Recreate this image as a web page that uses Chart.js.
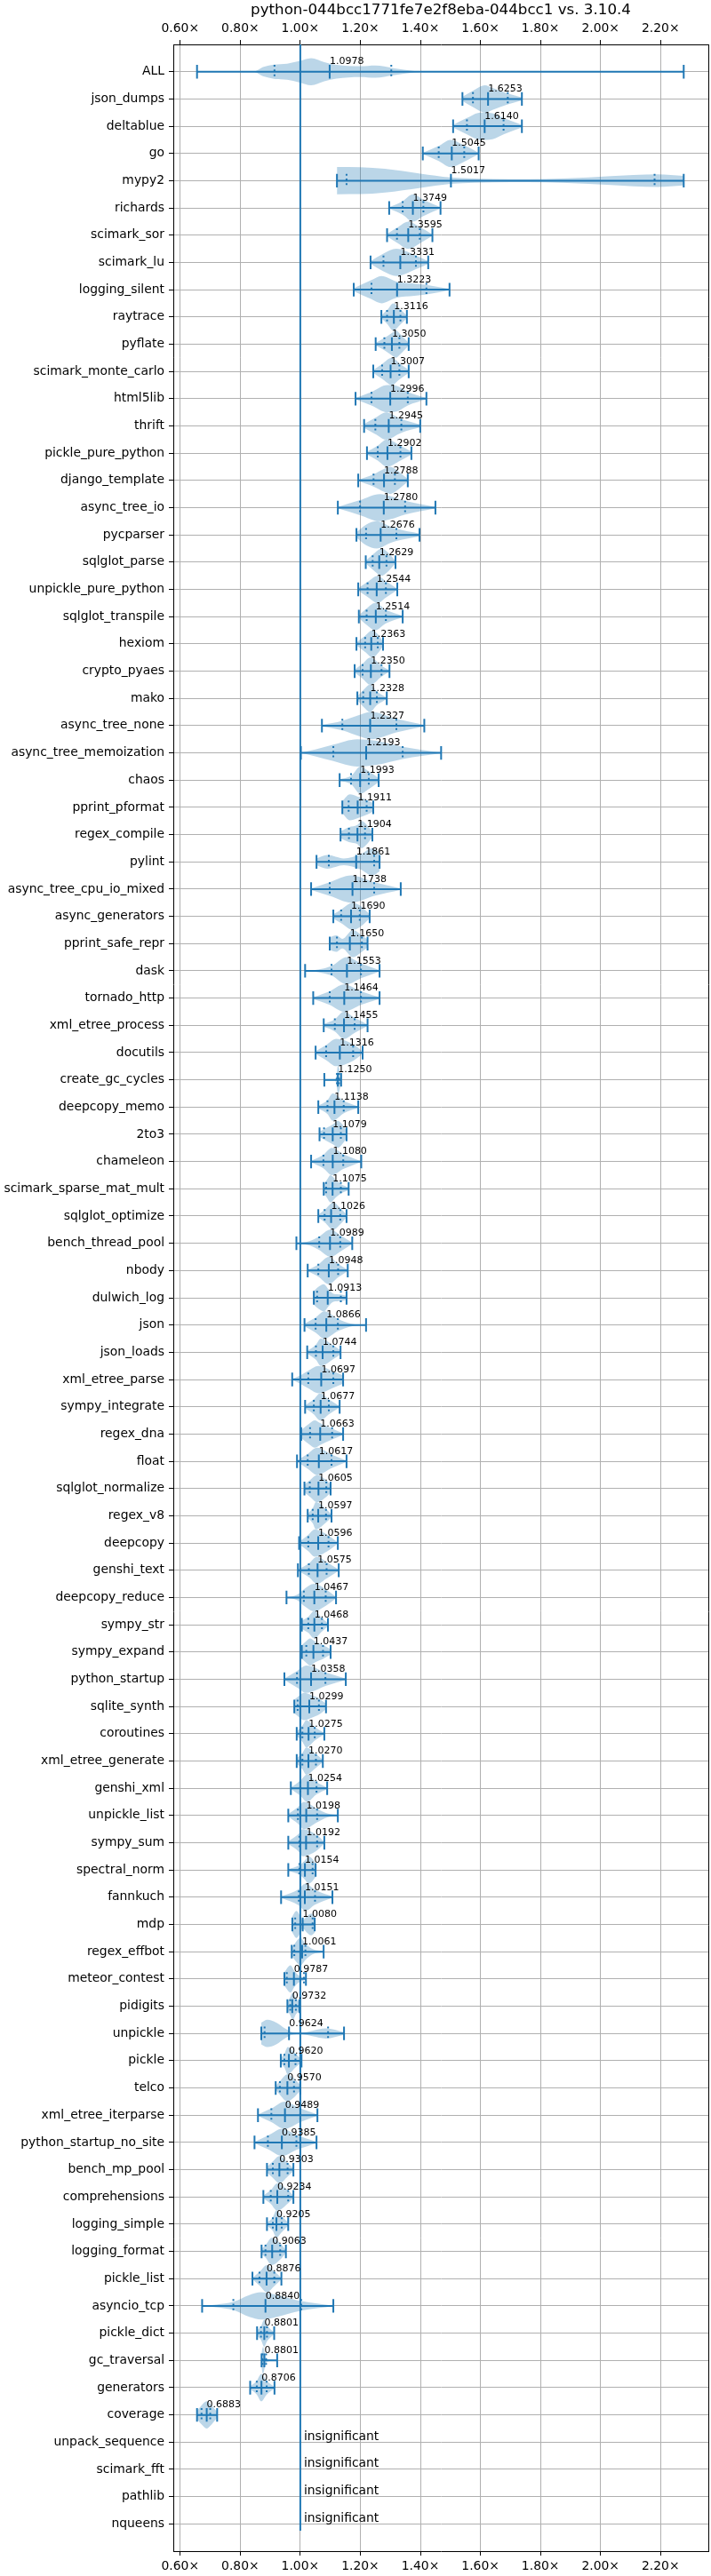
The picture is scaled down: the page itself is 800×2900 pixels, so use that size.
<!DOCTYPE html>
<html>
<head>
<meta charset="utf-8">
<title>python-044bcc1771fe7e2f8eba-044bcc1 vs. 3.10.4</title>
<script src="https://cdn.jsdelivr.net/npm/chart.js@4.4.0/dist/chart.umd.min.js"></script>
<style>
  html, body { margin: 0; padding: 0; background: #fff; }
  #wrap { width: 800px; height: 2900px; }
</style>
</head>
<body>
<div id="wrap"><canvas id="grafico" width="800" height="2900"></canvas></div>
<script>
const titulo = 'python-044bcc1771fe7e2f8eba-044bcc1 vs. 3.10.4';

const xTicks = [0.6, 0.8, 1.0, 1.2, 1.4, 1.6, 1.8, 2.0, 2.2];

const benchmarks = [
  'ALL', 'json_dumps', 'deltablue', 'go', 'mypy2', 'richards', 'scimark_sor', 'scimark_lu',
  'logging_silent', 'raytrace', 'pyflate', 'scimark_monte_carlo', 'html5lib', 'thrift',
  'pickle_pure_python', 'django_template', 'async_tree_io', 'pycparser', 'sqlglot_parse',
  'unpickle_pure_python', 'sqlglot_transpile', 'hexiom', 'crypto_pyaes', 'mako',
  'async_tree_none', 'async_tree_memoization', 'chaos', 'pprint_pformat', 'regex_compile',
  'pylint', 'async_tree_cpu_io_mixed', 'async_generators', 'pprint_safe_repr', 'dask',
  'tornado_http', 'xml_etree_process', 'docutils', 'create_gc_cycles', 'deepcopy_memo', '2to3',
  'chameleon', 'scimark_sparse_mat_mult', 'sqlglot_optimize', 'bench_thread_pool', 'nbody',
  'dulwich_log', 'json', 'json_loads', 'xml_etree_parse', 'sympy_integrate', 'regex_dna',
  'float', 'sqlglot_normalize', 'regex_v8', 'deepcopy', 'genshi_text', 'deepcopy_reduce',
  'sympy_str', 'sympy_expand', 'python_startup', 'sqlite_synth', 'coroutines',
  'xml_etree_generate', 'genshi_xml', 'unpickle_list', 'sympy_sum', 'spectral_norm',
  'fannkuch', 'mdp', 'regex_effbot', 'meteor_contest', 'pidigits', 'unpickle', 'pickle',
  'telco', 'xml_etree_iterparse', 'python_startup_no_site', 'bench_mp_pool', 'comprehensions',
  'logging_simple', 'logging_format', 'pickle_list', 'asyncio_tcp', 'pickle_dict',
  'gc_traversal', 'generators', 'coverage', 'unpack_sequence', 'scimark_fft', 'pathlib', 'nqueens'
];

// valor central (null = insignificant)
const medians = [
  1.0978, 1.6253, 1.6140, 1.5045, 1.5017, 1.3749, 1.3595, 1.3331, 1.3223, 1.3116, 1.3050,
  1.3007, 1.2996, 1.2945, 1.2902, 1.2788, 1.2780, 1.2676, 1.2629, 1.2544, 1.2514, 1.2363,
  1.2350, 1.2328, 1.2327, 1.2193, 1.1993, 1.1911, 1.1904, 1.1861, 1.1738, 1.1690, 1.1650,
  1.1553, 1.1464, 1.1455, 1.1316, 1.1250, 1.1138, 1.1079, 1.1080, 1.1075, 1.1026, 1.0989,
  1.0948, 1.0913, 1.0866, 1.0744, 1.0697, 1.0677, 1.0663, 1.0617, 1.0605, 1.0597, 1.0596,
  1.0575, 1.0467, 1.0468, 1.0437, 1.0358, 1.0299, 1.0275, 1.0270, 1.0254, 1.0198, 1.0192,
  1.0154, 1.0151, 1.0080, 1.0061, 0.9787, 0.9732, 0.9624, 0.9620, 0.9570, 0.9489, 0.9385,
  0.9303, 0.9234, 0.9205, 0.9063, 0.8876, 0.8840, 0.8801, 0.8801, 0.8706, 0.6883,
  null, null, null, null
];

const mins = [
  0.656, 1.540, 1.509, 1.408, 1.122, 1.296, 1.289, 1.234, 1.178, 1.270, 1.251, 1.243, 1.184,
  1.2125, 1.222, 1.193, 1.125, 1.187, 1.218, 1.193, 1.195, 1.187, 1.181, 1.190, 1.072, 1.002,
  1.131, 1.140, 1.134, 1.054, 1.036, 1.110, 1.098, 1.016, 1.043, 1.078, 1.051, 1.080, 1.060,
  1.064, 1.036, 1.078, 1.060, 0.987, 1.0246, 1.045, 1.014, 1.023, 0.973, 1.016, 1.003, 0.989,
  1.0138, 1.0246, 0.996, 0.992, 0.954, 1.005, 1.005, 0.947, 0.980, 0.988, 0.988, 0.9685, 0.960,
  0.960, 0.960, 0.936, 0.9734, 0.9715, 0.947, 0.957, 0.870, 0.935, 0.918, 0.859, 0.8475, 0.889,
  0.877, 0.889, 0.871, 0.8406, 0.673, 0.856, 0.871, 0.833, 0.656,
  null, null, null, null
];

const maxs = [
  2.277, 1.738, 1.738, 1.594, 2.277, 1.467, 1.440, 1.426, 1.497, 1.355, 1.361, 1.361, 1.420,
  1.3994, 1.370, 1.358, 1.450, 1.397, 1.317, 1.323, 1.341, 1.2755, 1.297, 1.288, 1.413, 1.469,
  1.261, 1.243, 1.240, 1.264, 1.3345, 1.231, 1.224, 1.264, 1.264, 1.224, 1.2075, 1.136, 1.193,
  1.154, 1.203, 1.161, 1.154, 1.173, 1.158, 1.154, 1.219, 1.134, 1.1426, 1.131, 1.1426, 1.154,
  1.101, 1.104, 1.125, 1.128, 1.119, 1.092, 1.101, 1.1515, 1.0856, 1.080, 1.075, 1.0895, 1.125,
  1.080, 1.051, 1.107, 1.048, 1.0777, 1.0187, 0.997, 1.1456, 1.004, 1.000, 1.057, 1.054, 0.977,
  0.977, 0.9597, 0.952, 0.937, 1.110, 0.913, 0.923, 0.914, 0.723,
  null, null, null, null
];

const lowQ = [
  0.914, 1.575, 1.555, 1.461, 1.154, 1.341, 1.322, 1.277, 1.237, 1.289, 1.280, 1.2725, 1.237,
  1.250, 1.258, 1.244, 1.199, 1.219, 1.241, 1.224, 1.221, 1.216, 1.2075, 1.2095, 1.140, 1.110,
  1.169, 1.161, 1.162, 1.095, 1.098, 1.136, 1.122, 1.104, 1.098, 1.115, 1.086, 1.122, 1.0905,
  1.079, 1.077, 1.086, 1.081, 1.063, 1.060, 1.056, 1.051, 1.052, 1.0266, 1.045, 1.0325, 1.0246,
  1.0315, 1.0413, 1.0266, 1.0285, 1.0118, 1.0266, 1.020, 0.989, 0.991, 1.007, 1.007, 1.000,
  0.992, 0.997, 0.997, 0.995, 0.983, 0.980, 0.955, 0.9665, 0.881, 0.947, 0.932, 0.9036, 0.892,
  0.9085, 0.9016, 0.9085, 0.884, 0.864, 0.777, 0.869, 0.874, 0.855, 0.671,
  null, null, null, null
];

const highQ = [
  1.303, 1.691, 1.677, 1.546, 2.180, 1.410, 1.398, 1.385, 1.420, 1.3335, 1.330, 1.330, 1.358,
  1.3365, 1.3335, 1.315, 1.349, 1.320, 1.287, 1.285, 1.285, 1.258, 1.2705, 1.255, 1.320, 1.341,
  1.228, 1.221, 1.2155, 1.246, 1.246, 1.198, 1.205, 1.202, 1.202, 1.181, 1.176, 1.129, 1.1446,
  1.135, 1.143, 1.135, 1.133, 1.133, 1.126, 1.135, 1.125, 1.110, 1.110, 1.095, 1.106, 1.104,
  1.0866, 1.0856, 1.094, 1.0876, 1.0846, 1.072, 1.0757, 1.0836, 1.062, 1.048, 1.052, 1.054,
  1.056, 1.056, 1.041, 1.049, 1.041, 1.017, 1.012, 0.9852, 1.0925, 0.984, 0.979, 1.000, 0.987,
  0.9577, 0.9597, 0.938, 0.933, 0.9134, 1.003, 0.889, 0.886, 0.888, 0.700,
  null, null, null, null
];

// contorno de cada violin: [x, ancho relativo al maximo]
const violinShapes = [
  [[0.656,0],[0.843,0],[0.878,0.35],[0.912,0.52],[0.956,0.59],[0.996,0.78],[1.036,1.0],[1.08,0.7],[1.12,0.5],[1.16,0.42],[1.2,0.4],[1.25,0.45],[1.31,0.26],[1.38,0.05],[1.42,0],[2.277,0]],
  [[1.54,0.15],[1.575,0.6],[1.615,1.0],[1.64,0.8],[1.691,0.4],[1.738,0.1]],
  [[1.509,0.1],[1.555,0.6],[1.6,1.0],[1.64,0.95],[1.677,0.6],[1.738,0.1]],
  [[1.408,0.05],[1.461,0.55],[1.5,1.0],[1.546,0.6],[1.594,0.05]],
  [[1.122,1.0],[1.2,0.99],[1.282,0.87],[1.4,0.52],[1.5,0.24],[1.58,0.15],[1.7,0.1],[1.82,0.12],[1.96,0.24],[2.11,0.41],[2.19,0.46],[2.277,0.35]],
  [[1.296,0.05],[1.341,0.5],[1.375,1.0],[1.41,0.6],[1.467,0.05]],
  [[1.289,0.1],[1.322,0.55],[1.36,1.0],[1.398,0.6],[1.44,0.05]],
  [[1.234,0.1],[1.277,0.65],[1.32,1.0],[1.385,0.5],[1.426,0.1]],
  [[1.178,0.1],[1.237,0.7],[1.27,1.0],[1.32,0.6],[1.38,0.45],[1.42,0.35],[1.497,0.05]],
  [[1.27,0.1],[1.289,0.5],[1.31,1.0],[1.3335,0.55],[1.355,0.1]],
  [[1.251,0.1],[1.28,0.45],[1.31,0.9],[1.318,1.0],[1.33,0.8],[1.361,0.1]],
  [[1.243,0.1],[1.2725,0.55],[1.305,1.0],[1.33,0.6],[1.361,0.1]],
  [[1.184,0.05],[1.237,0.5],[1.29,1.0],[1.32,0.95],[1.358,0.5],[1.42,0.05]],
  [[1.2125,0.15],[1.25,0.6],[1.285,1.0],[1.3365,0.5],[1.3994,0.1]],
  [[1.222,0.1],[1.258,0.55],[1.288,1.0],[1.3335,0.55],[1.37,0.1]],
  [[1.193,0.05],[1.244,0.45],[1.28,0.85],[1.3,1.0],[1.315,0.85],[1.358,0.1]],
  [[1.125,0.05],[1.199,0.55],[1.265,1.0],[1.3,0.85],[1.349,0.5],[1.45,0.05]],
  [[1.187,0.2],[1.219,0.75],[1.255,1.0],[1.3,0.6],[1.32,0.45],[1.397,0.1]],
  [[1.218,0.1],[1.241,0.55],[1.272,1.0],[1.287,0.8],[1.317,0.1]],
  [[1.193,0.1],[1.224,0.55],[1.258,1.0],[1.285,0.6],[1.323,0.05]],
  [[1.195,0.1],[1.221,0.6],[1.25,1.0],[1.285,0.5],[1.341,0.05]],
  [[1.187,0.1],[1.216,0.6],[1.24,1.0],[1.258,0.7],[1.2755,0.15]],
  [[1.181,0.1],[1.2075,0.55],[1.233,1.0],[1.2705,0.4],[1.297,0.05]],
  [[1.19,0.15],[1.2095,0.6],[1.233,1.0],[1.255,0.5],[1.288,0.05]],
  [[1.072,0.05],[1.14,0.35],[1.2,0.8],[1.235,1.0],[1.32,0.5],[1.413,0.05]],
  [[1.002,0.02],[1.05,0.25],[1.11,0.6],[1.19,1.0],[1.25,0.9],[1.341,0.45],[1.469,0.03]],
  [[1.131,0.05],[1.169,0.3],[1.2,1.0],[1.228,0.65],[1.261,0.15]],
  [[1.14,0.45],[1.165,0.95],[1.19,0.8],[1.221,0.55],[1.243,0.3]],
  [[1.134,0.25],[1.162,0.55],[1.19,0.7],[1.205,1.0],[1.2155,0.85],[1.24,0.2]],
  [[1.054,0.25],[1.09,0.5],[1.145,0.25],[1.2,0.55],[1.24,1.0],[1.264,0.7]],
  [[1.036,0.05],[1.098,0.5],[1.17,1.0],[1.246,0.5],[1.3345,0.05]],
  [[1.11,0.15],[1.136,0.5],[1.175,1.0],[1.198,0.8],[1.231,0.15]],
  [[1.098,0.45],[1.12,0.6],[1.14,0.35],[1.175,1.0],[1.205,0.6],[1.224,0.3]],
  [[1.016,0.02],[1.06,0.1],[1.104,0.35],[1.155,1.0],[1.202,0.55],[1.264,0.05]],
  [[1.043,0.05],[1.098,0.5],[1.145,1.0],[1.202,0.5],[1.264,0.05]],
  [[1.078,0.1],[1.115,0.45],[1.145,1.0],[1.181,0.55],[1.224,0.05]],
  [[1.051,0.1],[1.086,0.55],[1.12,1.0],[1.176,0.6],[1.2075,0.1]],
  [[1.08,0],[1.115,0.03],[1.12,0.3],[1.125,1.0],[1.13,0.8],[1.136,0.2]],
  [[1.06,0.1],[1.09,0.5],[1.108,1.0],[1.145,0.45],[1.193,0.05]],
  [[1.064,0.2],[1.085,0.45],[1.11,0.75],[1.125,1.0],[1.135,0.85],[1.154,0.3]],
  [[1.036,0.05],[1.077,0.5],[1.105,1.0],[1.143,0.55],[1.203,0.02]],
  [[1.078,0.3],[1.09,0.7],[1.1,1.0],[1.12,0.6],[1.135,0.35],[1.161,0.1]],
  [[1.06,0.1],[1.081,0.45],[1.11,1.0],[1.133,0.6],[1.154,0.1]],
  [[0.987,0],[1.03,0.15],[1.063,0.5],[1.1,1.0],[1.133,0.6],[1.173,0.05]],
  [[1.0246,0.05],[1.06,0.45],[1.095,1.0],[1.126,0.5],[1.158,0.05]],
  [[1.045,0.5],[1.06,0.8],[1.078,1.0],[1.095,0.6],[1.11,0.3],[1.135,0.25],[1.154,0.15]],
  [[1.014,0.1],[1.051,0.55],[1.08,1.0],[1.125,0.45],[1.17,0.1],[1.219,0.02]],
  [[1.023,0.1],[1.052,0.55],[1.068,1.0],[1.11,0.5],[1.134,0.15]],
  [[0.973,0.05],[1.0,0.3],[1.027,0.65],[1.06,1.0],[1.11,0.6],[1.1426,0.3]],
  [[1.016,0.1],[1.045,0.55],[1.066,1.0],[1.095,0.55],[1.131,0.05]],
  [[1.003,0.3],[1.0325,0.8],[1.048,1.0],[1.066,0.8],[1.106,0.4],[1.1426,0.05]],
  [[0.989,0.05],[1.0246,0.55],[1.056,1.0],[1.104,0.5],[1.154,0.05]],
  [[1.0138,0.3],[1.0315,0.6],[1.056,1.0],[1.087,0.6],[1.101,0.3]],
  [[1.0246,0.15],[1.0413,0.55],[1.052,1.0],[1.0856,0.5],[1.104,0.1]],
  [[0.996,0.1],[1.0266,0.6],[1.048,1.0],[1.094,0.55],[1.125,0.05]],
  [[0.992,0.05],[1.0285,0.5],[1.056,1.0],[1.0876,0.6],[1.128,0.05]],
  [[0.954,0],[0.99,0.2],[1.012,0.6],[1.046,1.0],[1.085,0.6],[1.119,0.05]],
  [[1.005,0.3],[1.027,0.6],[1.046,1.0],[1.072,0.5],[1.092,0.1]],
  [[1.005,0.5],[1.02,0.8],[1.033,1.0],[1.05,0.75],[1.076,0.5],[1.101,0.2]],
  [[0.947,0.05],[0.989,0.6],[1.02,1.0],[1.084,0.5],[1.1515,0.05]],
  [[0.98,0.5],[0.991,0.7],[1.012,1.0],[1.04,0.8],[1.062,0.6],[1.0856,0.2]],
  [[0.988,0.15],[1.007,0.6],[1.02,1.0],[1.048,0.5],[1.08,0.05]],
  [[0.988,0.2],[1.007,0.6],[1.02,1.0],[1.052,0.5],[1.075,0.1]],
  [[0.9685,0.05],[1.0,0.55],[1.022,1.0],[1.054,0.45],[1.0895,0.05]],
  [[0.96,0.1],[0.992,0.6],[1.012,1.0],[1.056,0.5],[1.09,0.15],[1.125,0.02]],
  [[0.96,0.1],[0.997,0.7],[1.007,1.0],[1.056,0.55],[1.08,0.05]],
  [[0.96,0.05],[0.997,0.35],[1.015,0.7],[1.027,1.0],[1.041,0.8],[1.051,0.5]],
  [[0.936,0.05],[0.995,0.6],[1.017,1.0],[1.049,0.55],[1.107,0.05]],
  [[0.9734,0.6],[0.987,1.0],[1.0,0.6],[1.008,0.3],[1.02,0.55],[1.036,0.8],[1.048,0.6]],
  [[0.9715,0.3],[0.985,0.7],[1.0,1.0],[1.017,0.6],[1.04,0.2],[1.0777,0.02]],
  [[0.947,0.5],[0.9675,1.0],[0.98,0.6],[0.995,0.25],[1.012,0.1],[1.0187,0.05]],
  [[0.957,0.3],[0.965,0.6],[0.975,1.0],[0.985,0.6],[0.997,0.3]],
  [[0.87,0.8],[0.89,1.0],[0.92,0.8],[0.95,0.35],[0.975,0.08],[1.0,0.05],[1.04,0.2],[1.085,0.37],[1.1456,0.1]],
  [[0.935,0.2],[0.947,0.5],[0.958,1.0],[0.984,0.5],[1.004,0.1]],
  [[0.918,0.15],[0.932,0.5],[0.957,1.0],[0.979,0.7],[1.0,0.2]],
  [[0.859,0.05],[0.9036,0.5],[0.948,1.0],[1.0,0.5],[1.057,0.05]],
  [[0.8475,0.05],[0.892,0.5],[0.94,1.0],[0.987,0.55],[1.054,0.05]],
  [[0.889,0.2],[0.9085,0.6],[0.93,1.0],[0.958,0.5],[0.977,0.1]],
  [[0.877,0.1],[0.9016,0.5],[0.923,1.0],[0.96,0.45],[0.977,0.1]],
  [[0.889,0.1],[0.9085,0.5],[0.92,1.0],[0.938,0.6],[0.9597,0.1]],
  [[0.871,0.2],[0.884,0.45],[0.905,1.0],[0.933,0.6],[0.952,0.1]],
  [[0.8406,0.05],[0.864,0.5],[0.889,1.0],[0.913,0.55],[0.937,0.05]],
  [[0.673,0],[0.72,0.1],[0.777,0.3],[0.83,0.8],[0.87,1.0],[0.94,0.7],[1.003,0.35],[1.11,0.02]],
  [[0.856,0.2],[0.869,0.5],[0.88,1.0],[0.889,0.6],[0.913,0.05]],
  [[0.871,0.6],[0.876,1.0],[0.882,0.5],[0.89,0.1],[0.923,0.02]],
  [[0.833,0.1],[0.855,0.5],[0.87,1.0],[0.888,0.5],[0.914,0.05]],
  [[0.656,0.3],[0.671,0.7],[0.688,1.0],[0.7,0.8],[0.723,0.2]],
  null, null, null, null
];

const azul = '#1f77b4';
const relleno = 'rgba(31, 119, 180, 0.3)';
const CAP = 0.25;
const fuente = 'DejaVu Sans';

Chart.defaults.font.family = fuente;

const datasets = [];

// cuerpos de los violines: borde superior e inferior, rellenos entre si
benchmarks.forEach((nombre, i) => {
  const forma = violinShapes[i];
  if (!forma) return;
  const pos = i + 1;
  const comun = {
    label: nombre, borderColor: 'rgba(0,0,0,0)', borderWidth: 0, pointRadius: 0,
    cubicInterpolationMode: 'monotone', order: 3
  };
  datasets.push({ ...comun, data: forma.map(([x, w]) => ({ x, y: pos - w / 2 })), fill: false });
  datasets.push({ ...comun, data: forma.map(([x, w]) => ({ x, y: pos + w / 2 })), fill: '-1', backgroundColor: relleno });
});

// barras, topes y medianas (solido) + cuantiles (punteado)
const trazos = [];
const puntos = [];
function segmento(lista, x0, y0, x1, y1) {
  lista.push({ x: x0, y: y0 }, { x: x1, y: y1 }, { x: x1, y: null });
}
benchmarks.forEach((nombre, i) => {
  if (medians[i] == null) return;
  const pos = i + 1;
  segmento(trazos, mins[i], pos, maxs[i], pos);
  [mins[i], maxs[i], medians[i]].forEach(v => segmento(trazos, v, pos - CAP, v, pos + CAP));
  [lowQ[i], highQ[i]].forEach(v => segmento(puntos, v, pos - CAP, v, pos + CAP));
});

datasets.push({
  label: 'rango', data: trazos, borderColor: azul, borderWidth: 2, pointRadius: 0,
  fill: false, spanGaps: false, order: 2
});
datasets.push({
  label: 'cuantiles', data: puntos, borderColor: azul, borderWidth: 2, pointRadius: 0,
  borderDash: [2, 3.3], fill: false, spanGaps: false, order: 2
});
datasets.push({
  label: 'base', data: [{ x: 1, y: 0 }, { x: 1, y: benchmarks.length + 0.25 }],
  borderColor: azul, borderWidth: 2, pointRadius: 0, fill: false, order: 1
});

const etiquetas = {
  id: 'etiquetas',
  afterDatasetsDraw(chart) {
    const { ctx, scales: { x, y } } = chart;
    ctx.save();
    ctx.fillStyle = '#000';
    ctx.textAlign = 'left';
    ctx.textBaseline = 'alphabetic';
    benchmarks.forEach((nombre, i) => {
      const pos = i + 1;
      if (medians[i] == null) {
        ctx.font = '13.9px "' + fuente + '"';
        ctx.fillText('insignificant', x.getPixelForValue(1) + 4, y.getPixelForValue(pos) - 2.5);
      } else {
        ctx.font = '11px "' + fuente + '"';
        ctx.fillText(medians[i].toFixed(4), x.getPixelForValue(medians[i]), y.getPixelForValue(pos - 0.27));
      }
    });
    ctx.restore();
  }
};

const fuenteEje = { family: fuente, size: 13.9 };

function ejeX(posicion, alto) {
  return {
    type: 'linear', axis: 'x', position: posicion, min: 0.577, max: 2.359,
    afterBuildTicks: s => { s.ticks = xTicks.map(v => ({ value: v })); },
    afterFit: s => { s.height = alto; },
    ticks: {
      callback: v => v.toFixed(2) + '×', color: '#000', font: fuenteEje,
      padding: 4, maxRotation: 0, autoSkip: false
    },
    grid: {
      color: '#b0b0b0', lineWidth: 1, tickColor: '#000', tickLength: 5, tickWidth: 1,
      drawOnChartArea: posicion === 'bottom'
    },
    border: { color: '#000', width: 1 }
  };
}

new Chart(document.getElementById('grafico').getContext('2d'), {
  type: 'line',
  data: { datasets },
  options: {
    responsive: false,
    devicePixelRatio: 1,
    animation: false,
    layout: { padding: 0 },
    plugins: {
      legend: { display: false },
      tooltip: { enabled: false },
      title: {
        display: true, text: titulo, color: '#000', fullSize: false,
        font: { family: fuente, size: 16.7, weight: 'normal' },
        padding: { top: 2, bottom: 0 }
      }
    },
    scales: {
      x: ejeX('bottom', 28),
      x2: ejeX('top', 28),
      y: {
        type: 'linear', reverse: true, min: 0, max: benchmarks.length + 1,
        afterBuildTicks: s => { s.ticks = benchmarks.map((_, i) => ({ value: i + 1 })); },
        afterFit: s => { s.width = 195; },
        ticks: {
          callback: v => benchmarks[v - 1], color: '#000', font: fuenteEje,
          padding: 5, autoSkip: false
        },
        grid: { color: '#b0b0b0', lineWidth: 1, tickColor: '#000', tickLength: 5, tickWidth: 1 },
        border: { color: '#000', width: 1 }
      },
      y2: {
        type: 'linear', axis: 'y', position: 'right', min: 0, max: 1,
        afterFit: s => { s.width = 3; },
        ticks: { display: false },
        grid: { display: false },
        border: { color: '#000', width: 1 }
      }
    }
  },
  plugins: [etiquetas]
});
</script>
</body>
</html>
